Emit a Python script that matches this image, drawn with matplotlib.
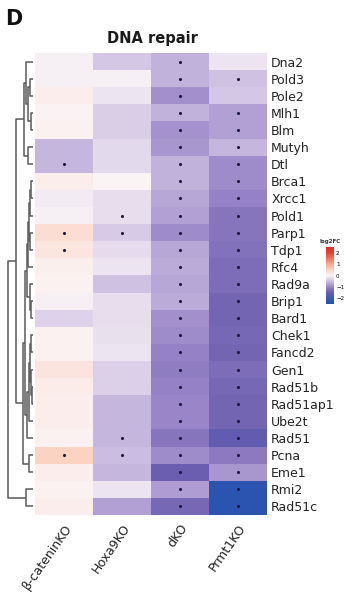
import numpy as np
import matplotlib
matplotlib.use("Agg")
import matplotlib.pyplot as plt
from matplotlib.colors import LinearSegmentedColormap

# Dane
genes = ["Dna2", "Pold3", "Pole2", "Mlh1", "Blm", "Mutyh", "Dtl", "Brca1", "Xrcc1",
         "Pold1", "Parp1", "Tdp1", "Rfc4", "Rad9a", "Brip1", "Bard1", "Chek1", "Fancd2",
         "Gen1", "Rad51b", "Rad51ap1", "Ube2t", "Rad51", "Pcna", "Eme1", "Rmi2", "Rad51c"]
samples = ["β-cateninKO", "Hoxa9KO", "dKO", "Prmt1KO"]

fc_bcat = [-0.05, -0.05, 0.10, 0.02, 0.04, -0.55, -0.55, 0.10, -0.08, -0.05, 0.35, 0.22, 0.08,
           0.05, -0.05, -0.30, 0.05, 0.05, 0.25, 0.12, 0.10, 0.10, 0.05, 0.50, 0.10, 0.05, 0.10]
fc_hoxa9 = [-0.40, -0.05, -0.15, -0.35, -0.35, -0.25, -0.25, 0.00, -0.20, -0.20, -0.38, -0.22, -0.15,
            -0.45, -0.20, -0.20, -0.18, -0.15, -0.32, -0.32, -0.55, -0.55, -0.55, -0.50, -0.55, -0.15, -0.75]
fc_dko = [-0.60, -0.60, -0.90, -0.60, -0.88, -0.85, -0.60, -0.60, -0.70, -0.75, -0.95, -0.70, -0.65,
          -0.70, -0.65, -0.90, -0.95, -1.05, -1.10, -1.05, -1.00, -1.00, -1.20, -0.95, -1.50, -0.80, -1.35]
fc_prmt1 = [-0.15, -0.45, -0.40, -0.75, -0.75, -0.55, -0.95, -0.95, -1.05, -1.20, -1.20, -1.25, -1.30,
            -1.30, -1.40, -1.40, -1.35, -1.40, -1.30, -1.35, -1.40, -1.40, -1.60, -1.15, -0.85, -2.30, -2.30]

# geny istotne (kropki)
sig_bcat = ["Dtl", "Parp1", "Tdp1", "Pcna"]
sig_hoxa9 = ["Pold1", "Parp1", "Rad51", "Pcna"]
sig_dko = list(genes)
sig_prmt1 = [g for g in genes if g not in ("Dna2", "Pole2")]

# Dendrogram: [lewy, prawy, wysokosc], liscie = indeks wiersza
grp_a = [[0, [[1, 2, 0.10], [3, 4, 0.08], 0.20], 0.26], [5, 6, 0.18], 0.33]
grp_b1 = [[7, 8, 0.07], 9, 0.12]
grp_b3 = [[grp_b1, [10, 11, 0.10], 0.16], 12, 0.19]
grp_b4 = [13, [14, 15, 0.07], 0.12]
grp_b5 = [[16, 17, 0.09], [18, [19, 20, 0.05], 0.09], 0.13]
grp_b6 = [[grp_b5, 21, 0.16], 22, 0.21]
grp_b = [[[grp_b3, grp_b4, 0.24], grp_b6, 0.29], [23, 24, 0.15], 0.38]
tree = [[grp_a, grp_b, 0.65], [25, 26, 0.28], 0.96]

mat = np.array([fc_bcat, fc_hoxa9, fc_dko, fc_prmt1]).T
sig = [sig_bcat, sig_hoxa9, sig_dko, sig_prmt1]

cmap = LinearSegmentedColormap.from_list("log2fc", [
    (0.00, "#1f52b0"), (0.10, "#3d58b0"), (0.20, "#6b5daf"), (0.30, "#9a86c8"),
    (0.40, "#cbbde1"), (0.50, "#fbf5f7"), (0.60, "#fbd3c2"), (0.70, "#f7a893"),
    (0.90, "#e8412f"), (1.00, "#de2a22")])
vmin, vmax = -2.5, 2.5

W, H = 357, 592
fig = plt.figure(figsize=(W / 100, H / 100), dpi=100)

def fx(px):
    return px / W

def fy(py):
    return 1 - py / H

# heatmapa
ax = fig.add_axes([fx(35), fy(515), fx(267) - fx(35), fy(53) - fy(515)])
ax.imshow(mat, cmap=cmap, vmin=vmin, vmax=vmax, aspect="auto",
          extent=(0, len(samples), len(genes), 0), interpolation="nearest")
for j, col in enumerate(sig):
    rows = [genes.index(g) for g in col]
    ax.scatter([j + 0.5] * len(rows), [r + 0.5 for r in rows], s=5, color="#1c1a3c",
               linewidths=0, zorder=3)
ax.set_xlim(0, len(samples))
ax.set_ylim(len(genes), 0)
ax.yaxis.tick_right()
ax.set_yticks(np.arange(len(genes)) + 0.5)
ax.set_yticklabels(genes, fontsize=9, color="#222222")
ax.set_xticks(np.arange(len(samples)) + 0.5)
ax.set_xticklabels(samples, fontsize=9, rotation=55, ha="right", va="top",
                   rotation_mode="anchor", color="#222222")
ax.tick_params(length=0, pad=3)
ax.tick_params(axis="x", pad=5)
for s in ax.spines.values():
    s.set_visible(False)

# dendrogram
axd = fig.add_axes([fx(3), fy(515), fx(35) - fx(3), fy(53) - fy(515)])

def draw(node):
    if isinstance(node, int):
        return node + 0.5, 0.0
    y1, h1 = draw(node[0])
    y2, h2 = draw(node[1])
    h = node[2]
    axd.plot([h1, h, h, h2], [y1, y1, y2, y2], color="#5a5a5a", lw=1.1,
             solid_capstyle="butt")
    return (y1 + y2) / 2, h

draw(tree)
axd.set_xlim(1.15, -0.08)
axd.set_ylim(len(genes), 0)
axd.axis("off")

# pasek kolorow
cax = fig.add_axes([fx(326), fy(304), fx(8), fy(0) - fy(57)])
cb = fig.colorbar(plt.cm.ScalarMappable(norm=plt.Normalize(vmin, vmax), cmap=cmap), cax=cax)
cb.set_ticks([2, 1, 0, -1, -2])
cb.ax.tick_params(labelsize=4, length=0, pad=1.5)
cb.outline.set_visible(False)
fig.text(fx(330), fy(242), "log2FC", fontsize=4, fontweight="bold", ha="center",
         va="center", color="#333333")

fig.text(fx(152), fy(38), "DNA repair", fontsize=10.5, fontweight="bold", ha="center",
         va="center", color="#1a1a1a")
fig.text(fx(5), fy(9), "D", fontsize=15, fontweight="bold", ha="left", va="top",
         color="#111111")

fig.savefig("out.png", dpi=100)
